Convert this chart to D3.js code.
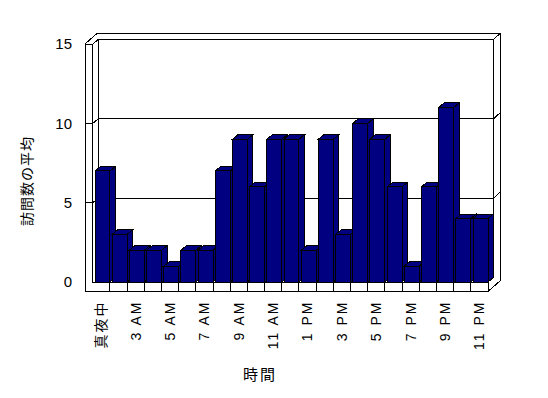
<!DOCTYPE html>
<html>
<head>
<meta charset="utf-8">
<script src="https://cdn.jsdelivr.net/npm/d3@7"></script>
<style>
  body { margin: 0; background: #fff; }
  svg text { font-family: "Liberation Sans", Arial, "Noto Sans CJK JP", sans-serif; fill: #000; }
</style>
</head>
<body>
<svg id="chart"></svg>
<script>
const W = 548, H = 398;

// data (one hour label is missing in the source)
const hours = ["真夜中","2 AM","3 AM","4 AM","5 AM","6 AM","7 AM","8 AM","9 AM","10 AM","11 AM","正午",
               "1 PM","2 PM","3 PM","4 PM","5 PM","6 PM","7 PM","8 PM","9 PM","10 PM","11 PM"];
const visits = [7,3,2,2,1,2,2,7,9,6,9,9,2,9,3,10,9,6,1,6,11,4,4];
const yTicks = [0,5,10,15];
const gridVals = [5,10];
const yTitle = "訪問数の平均";
const xTitle = "時間";

// 3d box geometry
const L0 = 85, L1 = 92.8, R = 488;   // wall outer / inner, floor right end
const FT = 9.5;                      // floor thickness
const D = [5.5, -4.5];               // depth of plot box
const E = [12, -10.5];               // depth incl. wall thickness
const navy = "#000080";

const svg = d3.select("#chart").attr("width", W).attr("height", H);
svg.append("rect").attr("width", W).attr("height", H).attr("fill", "#fff");

const x = d3.scaleBand().domain(hours).range([L1, R]).padding(0);
const y = d3.scaleLinear().domain([0, 15]).range([282, 44]);
const yT = y(15), yB = y(0);

const poly = pts => "M" + pts.map(p => p.join(",")).join("L") + "Z";
const seg = pts => "M" + pts.map(p => p.join(",")).join("L");

const g = svg.append("g").attr("shape-rendering", "crispEdges");

// outer silhouette of walls + floor
g.append("path")
  .attr("d", poly([[L0, yT], [L0 + E[0], yT + E[1]], [R + E[0], yT + E[1]],
                   [R + E[0], yB + FT + E[1]], [R, yB + FT], [L0, yB + FT]]))
  .attr("fill", "#fff").attr("stroke", "#000");

// back wall inner face
g.append("path")
  .attr("d", poly([[L1 + D[0], yT + D[1]], [R + D[0], yT + D[1]], [R + D[0], yB + D[1]], [L1 + D[0], yB + D[1]]]))
  .attr("fill", "#fff").attr("stroke", "#000");

// corner edges
g.append("path").attr("fill", "none").attr("stroke", "#000")
  .attr("d", seg([[L1, yT], [L1 + D[0], yT + D[1]]]) +
             seg([[R + D[0], yT + D[1]], [R + E[0], yT + E[1]]]) +
             seg([[R, yB], [R + D[0], yB + D[1]]]) +
             seg([[L1, yT], [L1, yB]]));

// gridlines across side wall and back wall
g.selectAll(".grid").data(gridVals).join("path")
  .attr("class", "grid").attr("fill", "none").attr("stroke", "#000")
  .attr("d", v => seg([[L1, y(v)], [L1 + D[0], y(v) + D[1]], [R + D[0], y(v) + D[1]], [R + E[0], y(v) + E[1]]]));

// bars
const bars = g.selectAll(".bar").data(hours.map((h, i) => ({h, v: visits[i]}))).join("g").attr("class", "bar");
const bx = d => x(d.h) + 2.2;
const bw = x.step() - 2.2;
bars.append("path")
  .attr("d", d => poly([[bx(d), y(d.v)], [bx(d) + bw, y(d.v)], [bx(d) + bw, yB], [bx(d), yB]]))
  .attr("fill", navy).attr("stroke", "#000");
bars.append("path")
  .attr("d", d => poly([[bx(d) + bw, y(d.v)], [bx(d) + bw + D[0], y(d.v) + D[1]], [bx(d) + bw + D[0], yB + D[1]], [bx(d) + bw, yB]]))
  .attr("fill", navy).attr("stroke", "#000");
bars.append("path")
  .attr("d", d => poly([[bx(d), y(d.v)], [bx(d) + D[0], y(d.v) + D[1]], [bx(d) + bw + D[0], y(d.v) + D[1]], [bx(d) + bw, y(d.v)]]))
  .attr("fill", navy).attr("stroke", "#000");

// front face of left wall + floor
g.append("path")
  .attr("d", poly([[L0, yT], [L1, yT], [L1, yB], [R, yB], [R, yB + FT], [L0, yB + FT]]))
  .attr("fill", "#fff").attr("stroke", "#000");

// ticks on the wall front
g.selectAll(".tick-l").data(gridVals).join("line")
  .attr("x1", L0).attr("x2", L1).attr("y1", d => y(d)).attr("y2", d => y(d))
  .attr("stroke", "#000");

// floor cells
g.selectAll(".cell").data(hours).join("line")
  .attr("x1", d => x(d) + x.step()).attr("x2", d => x(d) + x.step())
  .attr("y1", yB).attr("y2", yB + FT).attr("stroke", "#000");

// y axis labels
const ya = svg.append("g").attr("transform", `translate(${L0},0)`)
  .call(d3.axisLeft(y).tickValues(yTicks).tickSize(0).tickPadding(13));
ya.select(".domain").remove();
ya.selectAll("text").style("font-size", "15px").style("font-family", "'Liberation Sans', Arial, sans-serif");

// x axis labels
const xa = svg.append("g").attr("transform", `translate(0,${yB + FT})`)
  .call(d3.axisBottom(x).tickValues(hours.filter((d, i) => i % 2 === 0)).tickSize(0));
xa.select(".domain").remove();
xa.selectAll("text")
  .attr("transform", "rotate(-90)")
  .attr("x", -9).attr("y", 0).attr("dy", "0.35em")
  .style("text-anchor", "end")
  .style("font-size", "14px")
  .style("letter-spacing", "2px")
  .style("font-family", "'Liberation Sans', Arial, 'Noto Sans CJK JP', sans-serif");

// titles
svg.append("text")
  .attr("transform", "translate(27,181) rotate(-90)")
  .attr("text-anchor", "middle").attr("dy", "0.35em")
  .style("font-size", "14px").style("letter-spacing", "1px")
  .style("font-family", "'Noto Sans CJK JP', sans-serif")
  .text(yTitle);

svg.append("text")
  .attr("x", 260).attr("y", 375)
  .attr("text-anchor", "middle").attr("dy", "0.35em")
  .style("font-size", "15px").style("letter-spacing", "2px")
  .style("font-family", "'Noto Sans CJK JP', sans-serif")
  .text(xTitle);
</script>
</body>
</html>
